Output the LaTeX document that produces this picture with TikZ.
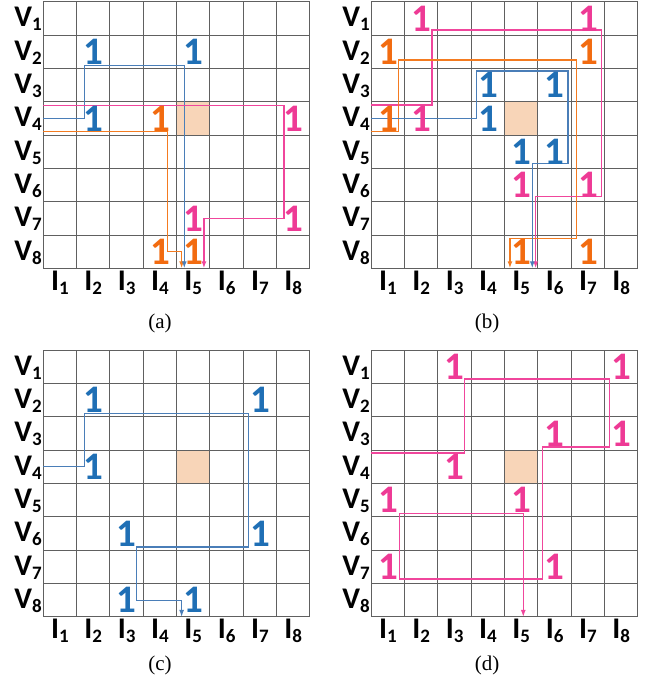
\documentclass[tikz,border=0pt]{standalone}
\usepackage{fontspec}
\setmainfont{Liberation Serif}
\newfontfamily\calfont{Carlito}
\usetikzlibrary{arrows.meta}
\definecolor{gridc}{HTML}{606060}
\definecolor{shadec}{HTML}{F8D5B8}
\definecolor{bll}{HTML}{4A7EB8}
\definecolor{blt}{HTML}{1F6FB5}
\definecolor{orl}{HTML}{F47B20}
\definecolor{ort}{HTML}{F26B10}
\definecolor{pkl}{HTML}{F0469C}
\definecolor{pkt}{HTML}{EE3A95}
\newcommand\sbs[1]{\raisebox{-4pt}{\fontsize{19}{19}\selectfont #1}}
\tikzset{
  gridline/.style={gridc, line width=1pt},
  vlab/.style={anchor=base east, inner sep=0pt, font=\calfont\bfseries\fontsize{30}{30}\selectfont},
  ilab/.style={anchor=base, inner sep=0pt, font=\calfont\bfseries\fontsize{30}{30}\selectfont},
  one/.style={inner sep=0pt, font=\calfont\bfseries\fontsize{39}{39}\selectfont},
  route/.style={line width=1.5pt, line join=miter},
  arr/.style={-{Latex[length=7pt,width=5pt]}},
  captxt/.style={font=\fontsize{21}{21}\selectfont}
}
\newcommand\mkpanel[1]{%
  \fill[shadec] (4,3) rectangle (5,4);
  \foreach \k in {0,...,8} {
    \draw[gridline] (\k,0) -- (\k,8);
    \draw[gridline] (0,\k) -- (8,\k);
  }
  \foreach \i in {1,...,8} {
    \node[vlab] (#1V\i) at (-0.04,\i-0.25) {V\sbs{\i}};
    \node[ilab] (#1I\i) at (\i-0.5,8.66) {I\sbs{\i}};
  }
}
\begin{document}
\begin{tikzpicture}
\useasboundingbox (0,0) rectangle (649pt,-690pt);

% ---------- (a)
\begin{scope}[shift={(43.3pt,-1.7pt)}, x=33.33pt, y=-33.33pt]
  \mkpanel{a}
  \coordinate (aBs) at (0,3.5);  \coordinate (aBe) at (4.23,8);
  \coordinate (aOs) at (0,3.9);  \coordinate (aOe) at (4.15,8);
  \coordinate (aPs) at (0,3.12); \coordinate (aPe) at (4.82,8);
  \draw[route, orl, arr] (aOs) -| (3.73,7.5) -| (aOe);
  \draw[route, bll, arr] (aBs) -| (1.23,1.92) -| (aBe);
  \draw[route, pkl, arr] (aPs) -| (7.22,6.5) -| (aPe);
  \foreach \r/\c in {2/2,2/5,4/2} \node[one, blt] (aB\r\c) at (\c-0.5,\r-0.5) {1};
  \foreach \r/\c in {4/4,8/4,8/5} \node[one, ort] (aO\r\c) at (\c-0.5,\r-0.5) {1};
  \foreach \r/\c in {4/8,7/5,7/8} \node[one, pkt] (aP\r\c) at (\c-0.5,\r-0.5) {1};
\end{scope}

% ---------- (b)
\begin{scope}[shift={(371.3pt,-1.7pt)}, x=33.33pt, y=-33.33pt]
  \mkpanel{b}
  \coordinate (bBs) at (0,3.5);  \coordinate (bBe) at (4.83,8);
  \coordinate (bOs) at (0,3.9);  \coordinate (bOe) at (4.16,8);
  \coordinate (bPs) at (0,3.1);  \coordinate (bPe) at (4.93,8);
  \draw[route, pkl, arr] (bPs) -| (1.82,0.85) -| (6.9,5.85) -| (bPe);
  \draw[route, orl, arr] (bOs) -| (0.82,1.75) -| (6.15,7.1) -| (bOe);
  \draw[route, bll, arr] (bBs) -| (3.16,2.08) -| (5.9,4.85) -| (bBe);
  \foreach \r/\c in {3/4,3/6,4/4,5/5,5/6} \node[one, blt] (bB\r\c) at (\c-0.5,\r-0.5) {1};
  \foreach \r/\c in {2/1,2/7,4/1,8/5,8/7} \node[one, ort] (bO\r\c) at (\c-0.5,\r-0.5) {1};
  \foreach \r/\c in {1/2,1/7,4/2,6/5,6/7} \node[one, pkt] (bP\r\c) at (\c-0.5,\r-0.5) {1};
\end{scope}

% ---------- (c)
\begin{scope}[shift={(43.3pt,-350.3pt)}, x=33.33pt, y=-33.33pt]
  \mkpanel{c}
  \coordinate (cBs) at (0,3.49);  \coordinate (cBe) at (4.15,8);
  \draw[route, bll, arr] (cBs) -| (1.23,1.9) -| (6.15,5.9) -| (2.8,7.5) -| (cBe);
  \foreach \r/\c in {2/2,2/7,4/2,6/3,6/7,8/3,8/5} \node[one, blt] (cB\r\c) at (\c-0.5,\r-0.5) {1};
\end{scope}

% ---------- (d)
\begin{scope}[shift={(371.3pt,-350.3pt)}, x=33.33pt, y=-33.33pt]
  \mkpanel{d}
  \coordinate (dPs) at (0,3.08);  \coordinate (dPe) at (4.56,8);
  \draw[route, pkl, arr] (dPs) -| (2.79,0.86) -| (7.15,2.9) -| (5.14,6.86) -| (0.85,4.9) -| (dPe);
  \foreach \r/\c in {1/3,1/8,3/6,3/8,4/3,5/1,5/5,7/1,7/6} \node[one, pkt] (dP\r\c) at (\c-0.5,\r-0.5) {1};
\end{scope}

\node[captxt] (capa) at (160pt,-323pt) {(a)};
\node[captxt] (capb) at (487pt,-323pt) {(b)};
\node[captxt] (capc) at (160pt,-665pt) {(c)};
\node[captxt] (capd) at (487pt,-665pt) {(d)};
\end{tikzpicture}
\end{document}
